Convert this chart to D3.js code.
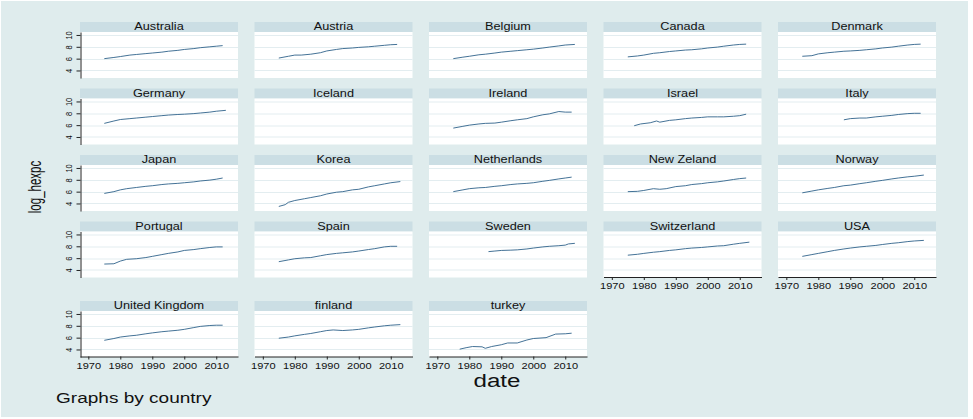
<!DOCTYPE html>
<html>
<head>
<meta charset="utf-8">
<script src="https://cdn.jsdelivr.net/npm/d3@7"></script>
<style>
  html, body { margin: 0; padding: 0; background: #ffffff; }
  svg { display: block; font-family: "Liberation Sans", Arial, sans-serif; }
</style>
</head>
<body>
<svg id="chart" width="973" height="419"></svg>
<script>
// Panel titles, in facet order
const countries = ["Australia", "Austria", "Belgium", "Canada", "Denmark",
  "Germany", "Iceland", "Ireland", "Israel", "Italy",
  "Japan", "Korea", "Netherlands", "New Zeland", "Norway",
  "Portugal", "Spain", "Sweden", "Switzerland", "USA",
  "United Kingdom", "finland", "turkey"];

// log health expenditure per capita, [year, value]
const australia = [[1975,6.0],[1978,6.2],[1980,6.35],[1983,6.6],[1985,6.7],[1988,6.85],[1990,6.95],[1993,7.1],[1995,7.25],[1998,7.4],[2000,7.55],[2003,7.7],[2005,7.85],[2008,8.0],[2010,8.1],[2012,8.2]];
const austria = [[1975,6.1],[1978,6.4],[1980,6.6],[1982,6.6],[1985,6.75],[1988,7.0],[1990,7.3],[1993,7.55],[1995,7.7],[1998,7.8],[2000,7.9],[2003,8.0],[2005,8.1],[2008,8.25],[2010,8.35],[2012,8.4]];
const belgium = [[1975,6.0],[1978,6.25],[1980,6.4],[1983,6.65],[1985,6.75],[1988,6.95],[1990,7.1],[1993,7.25],[1995,7.35],[1998,7.5],[2000,7.6],[2003,7.8],[2005,7.95],[2008,8.15],[2010,8.3],[2013,8.4]];
const canada = [[1975,6.3],[1978,6.45],[1980,6.6],[1983,6.9],[1985,7.0],[1988,7.2],[1990,7.3],[1993,7.45],[1995,7.5],[1998,7.65],[2000,7.8],[2003,7.95],[2005,8.1],[2008,8.3],[2010,8.4],[2012,8.45]];
const denmark = [[1975,6.4],[1978,6.5],[1980,6.8],[1983,7.0],[1985,7.1],[1988,7.25],[1990,7.3],[1993,7.4],[1995,7.5],[1998,7.65],[2000,7.8],[2003,7.95],[2005,8.1],[2008,8.3],[2010,8.4],[2012,8.45]];
const germany = [[1975,6.3],[1978,6.7],[1980,6.95],[1983,7.1],[1985,7.2],[1988,7.35],[1990,7.45],[1993,7.6],[1995,7.7],[1998,7.8],[2000,7.85],[2003,7.95],[2005,8.05],[2008,8.2],[2010,8.35],[2013,8.5]];
const iceland = [];
const ireland = [[1975,5.5],[1978,5.8],[1980,6.0],[1983,6.2],[1985,6.3],[1988,6.35],[1990,6.5],[1993,6.75],[1995,6.9],[1998,7.1],[2000,7.4],[2003,7.75],[2005,7.9],[2008,8.3],[2010,8.2],[2012,8.2]];
const israel = [[1977,5.9],[1979,6.2],[1982,6.4],[1984,6.7],[1985,6.5],[1988,6.8],[1990,6.9],[1993,7.1],[1995,7.2],[1998,7.3],[2000,7.4],[2003,7.4],[2005,7.4],[2008,7.5],[2010,7.6],[2012,7.85]];
const italy = [[1988,6.9],[1990,7.1],[1993,7.2],[1995,7.2],[1998,7.4],[2000,7.5],[2003,7.65],[2005,7.8],[2008,7.95],[2010,8.0],[2012,8.0]];
const japan = [[1975,5.7],[1978,6.0],[1980,6.3],[1982,6.5],[1985,6.7],[1988,6.9],[1990,7.0],[1993,7.2],[1995,7.3],[1998,7.4],[2000,7.5],[2003,7.65],[2005,7.8],[2008,7.95],[2010,8.1],[2012,8.3]];
const korea = [[1975,3.5],[1977,3.8],[1978,4.2],[1980,4.5],[1983,4.8],[1985,5.0],[1988,5.3],[1990,5.6],[1993,5.9],[1995,6.0],[1998,6.3],[2000,6.4],[2003,6.8],[2005,7.0],[2008,7.3],[2010,7.5],[2013,7.7]];
const netherlands = [[1975,6.0],[1978,6.3],[1980,6.5],[1983,6.65],[1985,6.7],[1988,6.9],[1990,7.0],[1993,7.2],[1995,7.3],[1998,7.4],[2000,7.5],[2003,7.75],[2005,7.9],[2008,8.15],[2010,8.3],[2012,8.45]];
const newZealand = [[1975,6.0],[1978,6.05],[1980,6.2],[1983,6.5],[1985,6.4],[1987,6.5],[1990,6.85],[1993,7.0],[1995,7.2],[1998,7.35],[2000,7.5],[2003,7.65],[2005,7.8],[2008,8.05],[2010,8.2],[2012,8.3]];
const norway = [[1975,5.8],[1978,6.1],[1980,6.3],[1983,6.55],[1985,6.7],[1988,7.0],[1990,7.1],[1993,7.35],[1995,7.5],[1998,7.75],[2000,7.9],[2003,8.15],[2005,8.3],[2008,8.5],[2010,8.6],[2013,8.8]];
const portugal = [[1975,5.0],[1978,5.05],[1980,5.5],[1982,5.8],[1985,5.9],[1988,6.1],[1990,6.3],[1993,6.6],[1995,6.8],[1998,7.05],[2000,7.3],[2003,7.45],[2005,7.6],[2008,7.8],[2010,7.9],[2012,7.9]];
const spain = [[1975,5.4],[1978,5.7],[1980,5.9],[1983,6.05],[1985,6.1],[1988,6.4],[1990,6.6],[1993,6.8],[1995,6.9],[1998,7.05],[2000,7.2],[2003,7.45],[2005,7.6],[2008,7.9],[2010,8.0],[2012,8.0]];
const sweden = [[1986,7.1],[1988,7.2],[1990,7.3],[1993,7.35],[1995,7.4],[1998,7.55],[2000,7.7],[2003,7.9],[2005,8.0],[2008,8.1],[2010,8.2],[2011,8.4],[2013,8.5]];
const switzerland = [[1975,6.5],[1978,6.65],[1980,6.8],[1983,7.0],[1985,7.1],[1988,7.3],[1990,7.4],[1993,7.6],[1995,7.7],[1998,7.8],[2000,7.9],[2003,8.05],[2005,8.1],[2008,8.35],[2010,8.5],[2013,8.7]];
const usa = [[1975,6.3],[1978,6.6],[1980,6.8],[1983,7.1],[1985,7.3],[1988,7.55],[1990,7.7],[1993,7.9],[1995,8.0],[1998,8.15],[2000,8.3],[2003,8.5],[2005,8.6],[2008,8.8],[2010,8.9],[2013,9.0]];
const unitedKingdom = [[1975,5.55],[1978,5.85],[1980,6.1],[1983,6.3],[1985,6.4],[1988,6.65],[1990,6.8],[1993,7.0],[1995,7.1],[1998,7.25],[2000,7.4],[2003,7.7],[2005,7.9],[2008,8.05],[2010,8.1],[2012,8.1]];
const finland = [[1975,5.9],[1978,6.1],[1980,6.3],[1983,6.55],[1985,6.7],[1988,7.0],[1990,7.2],[1992,7.3],[1995,7.2],[1998,7.3],[2000,7.4],[2003,7.65],[2005,7.8],[2008,8.0],[2010,8.1],[2013,8.2]];
const turkey = [[1977,4.05],[1979,4.3],[1981,4.5],[1984,4.45],[1985,4.2],[1987,4.5],[1990,4.8],[1992,5.1],[1995,5.1],[1998,5.6],[2000,5.85],[2004,6.0],[2007,6.6],[2010,6.65],[2012,6.75]];

const seriesList = [australia, austria, belgium, canada, denmark,
  germany, iceland, ireland, israel, italy,
  japan, korea, netherlands, newZealand, norway,
  portugal, spain, sweden, switzerland, usa,
  unitedKingdom, finland, turkey];

const yTicks = [4, 6, 8, 10];
const xTicks = [1970, 1980, 1990, 2000, 2010];

// ---- layout ----
const nCols = 5;
const colLeft = c => 80 + c * 174.5;
const rowTop = [22, 88.5, 155, 221.5, 301];
const panelW = 158, stripH = 10, plotH = 46;
const sx = 1.3; // horizontal stretch applied to glyphs

const bgColor = "#dfeced", stripColor = "#cbdee4", gridColor = "#e3edf0", lineColor = "#3a6a90";

const svg = d3.select("#chart");
svg.append("rect").attr("x", 1).attr("y", 1).attr("width", 967).attr("height", 416).attr("fill", bgColor);

const x = d3.scaleLinear().domain([1967.4, 2016.8]).range([0, panelW]);
const y = d3.scaleLinear().domain([2.73, 10.5]).range([plotH, 0]);

const line = d3.line().x(d => x(d[0])).y(d => y(d[1]));

function stretched(g, px, py, txt, size, stretch, anchor, rotate) {
  return g.append("text")
    .attr("transform", `translate(${px},${py}) scale(${stretch},1)` + (rotate ? " rotate(-90)" : ""))
    .attr("text-anchor", anchor)
    .style("font-size", size + "px")
    .attr("fill", "#111")
    .text(txt);
}

countries.forEach((name, i) => {
  const c = i % nCols, r = Math.floor(i / nCols);
  const left = colLeft(c), top = rowTop[r];
  const g = svg.append("g").attr("transform", `translate(${left},${top})`);

  // title strip
  g.append("rect").attr("width", panelW).attr("height", stripH).attr("fill", stripColor);
  stretched(g, panelW / 2, 8.2, name, 10, 1.27, "middle", false);

  // plot region
  const p = g.append("g").attr("transform", `translate(0,${stripH})`);
  p.append("rect").attr("width", panelW).attr("height", plotH).attr("fill", "#ffffff");
  p.selectAll("line.grid").data(yTicks).join("line")
    .attr("class", "grid")
    .attr("x1", 0).attr("x2", panelW)
    .attr("y1", d => Math.round(y(d)) + 0.5).attr("y2", d => Math.round(y(d)) + 0.5)
    .attr("stroke", gridColor).attr("stroke-width", 1);

  p.append("path").datum(seriesList[i])
    .attr("d", line)
    .attr("fill", "none")
    .attr("stroke", lineColor)
    .attr("stroke-width", 0.95);

  if (c === 0) {
    const ay = p.append("g").attr("transform", "translate(0.5,0)")
      .call(d3.axisLeft(y).tickValues(yTicks).tickSize(4).tickSizeOuter(0));
    ay.select(".domain").attr("stroke", "#222");
    ay.selectAll(".tick line").attr("stroke", "#222");
    ay.selectAll(".tick text")
      .attr("x", null).attr("dy", null).attr("y", null)
      .attr("transform", `translate(-8.5,0) scale(${sx},1) rotate(-90)`)
      .attr("text-anchor", "middle")
      .attr("fill", "#111")
      .style("font-size", "7.5px")
      .style("font-family", "'Liberation Sans', Arial, sans-serif");
  }

  if (i + nCols >= countries.length) {
    const ax = p.append("g").attr("transform", `translate(0,${plotH - 0.5})`)
      .call(d3.axisBottom(x).tickValues(xTicks).tickFormat(d3.format("d")).tickSize(3).tickSizeOuter(0));
    ax.select(".domain").attr("stroke", "#222");
    ax.selectAll(".tick line").attr("stroke", "#222");
    ax.selectAll(".tick text")
      .attr("y", null).attr("dy", null)
      .attr("transform", `translate(0,12) scale(${sx},1)`)
      .attr("fill", "#111")
      .style("font-size", "8.5px")
      .style("font-family", "'Liberation Sans', Arial, sans-serif");
  }
});

// axis titles and note
stretched(svg, 41, 187, "log_hexpc", 11.5, 1.55, "middle", true);
stretched(svg, 497, 387, "date", 19, 1.27, "middle", false);
stretched(svg, 56, 403, "Graphs by country", 15, 1.27, "start", false);
</script>
</body>
</html>
